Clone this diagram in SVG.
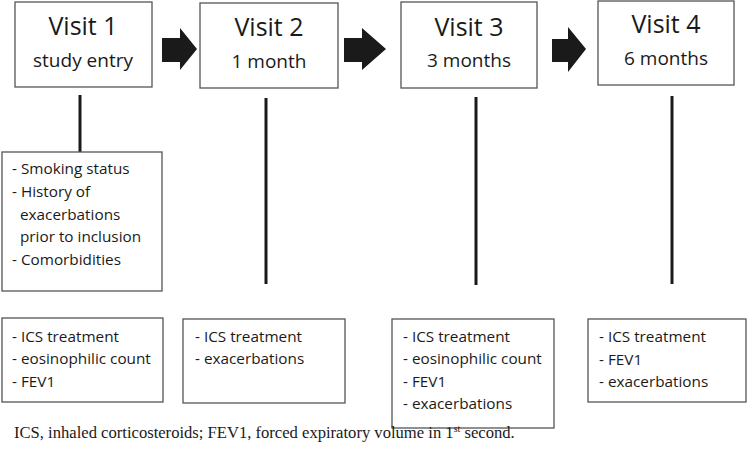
<svg xmlns="http://www.w3.org/2000/svg" width="751" height="461" viewBox="0 0 751 461">
<style>
.box{fill:#fff;stroke:#555;stroke-width:1.3}
.t{font-family:"Open Sans","Noto Sans",sans-serif;fill:#1a1a1a}
.h{font-size:25px;text-anchor:middle}
.s{font-size:19px;text-anchor:middle}
.d{font-size:15.3px}
.ln{stroke:#1a1a1a;stroke-width:3}
.arr{fill:#1a1a1a}
.fn{font-family:"Liberation Serif","Times New Roman",serif;font-size:16.6px;fill:#1a1a1a}
</style>
<rect width="751" height="461" fill="#fff"/>
<g id="connectors">
<polygon class="arr" points="162,38 180,38 180,28 197,49 180,70 180,62 162,62"/>
<polygon class="arr" points="344,38 362,38 362,28 386,49 362,70 362,62 344,62"/>
<polygon class="arr" points="552,39 568,39 568,27 586,49 568,72 568,62 552,62"/>
<line class="ln" x1="80" y1="95" x2="80" y2="152"/>
<line class="ln" x1="266" y1="98" x2="266" y2="284"/>
<line class="ln" x1="476" y1="97" x2="476" y2="285"/>
<line class="ln" x1="672" y1="96" x2="672" y2="284"/>
</g>
<g id="visit1">
<rect class="box" x="15" y="2" width="137" height="85"/>
<text class="t h" x="83" y="35">Visit 1</text>
<text class="t s" x="83" y="67">study entry</text>
</g>
<g id="visit2">
<rect class="box" x="200" y="3" width="138" height="85"/>
<text class="t h" x="269" y="36">Visit 2</text>
<text class="t s" x="269" y="68">1 month</text>
</g>
<g id="visit3">
<rect class="box" x="401" y="2" width="136" height="86"/>
<text class="t h" x="469" y="36">Visit 3</text>
<text class="t s" x="469" y="67">3 months</text>
</g>
<g id="visit4">
<rect class="box" x="598" y="1" width="136" height="84"/>
<text class="t h" x="666" y="33">Visit 4</text>
<text class="t s" x="666" y="65">6 months</text>
</g>
<g id="baseline">
<rect class="box" x="2" y="152" width="160" height="139"/>
<text class="t d" x="12" y="174">- Smoking status</text>
<text class="t d" x="12" y="197">- History of</text>
<text class="t d" x="20" y="220">exacerbations</text>
<text class="t d" x="20" y="242">prior to inclusion</text>
<text class="t d" x="12" y="265">- Comorbidities</text>
</g>
<g id="data1">
<rect class="box" x="2" y="318" width="161" height="84"/>
<text class="t d" x="12" y="342">- ICS treatment</text>
<text class="t d" x="12" y="364">- eosinophilic count</text>
<text class="t d" x="12" y="387">- FEV1</text>
</g>
<g id="data2">
<rect class="box" x="183" y="319" width="162" height="84"/>
<text class="t d" x="195" y="342">- ICS treatment</text>
<text class="t d" x="195" y="364">- exacerbations</text>
</g>
<g id="data3">
<rect class="box" x="392" y="319" width="162" height="109"/>
<text class="t d" x="403" y="342">- ICS treatment</text>
<text class="t d" x="403" y="364">- eosinophilic count</text>
<text class="t d" x="403" y="387">- FEV1</text>
<text class="t d" x="403" y="409">- exacerbations</text>
</g>
<g id="data4">
<rect class="box" x="588" y="319" width="158" height="83"/>
<text class="t d" x="599" y="342">- ICS treatment</text>
<text class="t d" x="599" y="365">- FEV1</text>
<text class="t d" x="599" y="387">- exacerbations</text>
</g>
<text class="fn" x="14" y="438">ICS, inhaled corticosteroids; FEV1, forced expiratory volume in 1<tspan font-size="10" dy="-6">st</tspan><tspan dy="6"> second.</tspan></text>
</svg>
